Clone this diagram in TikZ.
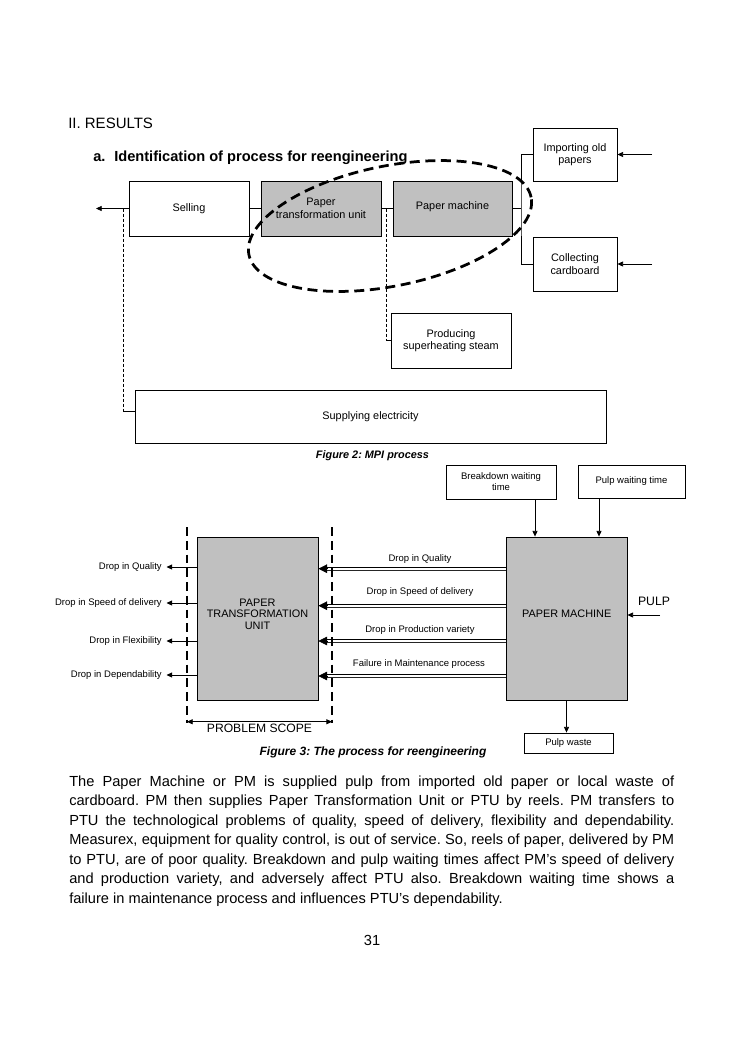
\documentclass[tikz,border=0pt]{standalone}
\usepackage{fontspec}
\setmainfont{Liberation Sans}
\usetikzlibrary{arrows.meta}
\newcommand\myfs[2]{\fontsize{#1}{#2}\selectfont}
\definecolor{boxgray}{RGB}{192,192,192}
\frenchspacing
\begin{document}
\begin{tikzpicture}[x=0.8pt,y=-0.8pt,
  box/.style={draw, line width=0.7pt, align=center, inner sep=1pt, font=\myfs{8.7}{10}},
  gbox/.style={box, fill=boxgray},
  sbox/.style={box, font=\myfs{7.6}{8.8}},
  conn/.style={line width=0.6pt},
  arr/.style={conn, -{Triangle[length=4.5pt,width=4pt]}},
  fine/.style={line width=0.6pt, dash pattern=on 2.4pt off 1.6pt},
  scopeline/.style={line width=1.7pt, dash pattern=on 7pt off 4pt},
  bigtip/.style={line width=0.4pt, -{Triangle[length=7pt,width=7pt]}},
  lbl/.style={inner sep=0pt, font=\myfs{7.6}{8.8}}
]
\useasboundingbox (0,0) rectangle (744,1053);
\fill[white] (0,0) rectangle (744,1053);

% headings
\node[anchor=base west, inner sep=0pt, font=\myfs{12}{14}] (sec) at (68,128) {II. RESULTS};
\node[anchor=base west, inner sep=0pt, font=\bfseries\myfs{11.7}{14}] (sa) at (93,161) {a.};
\node[anchor=base west, inner sep=0pt, font=\bfseries\myfs{11.7}{14}] (sat) at (114,161) {Identification of process for reengineering};

% Figure 2 boxes
\node[box, minimum width=96pt, minimum height=44pt] (sell) at (189,208.5) {Selling};
\node[gbox, minimum width=96pt, minimum height=44pt] (ptua) at (321,208.5) {Paper\\transformation unit};
\node[gbox, minimum width=95.2pt, minimum height=44pt] (pma) at (452.5,208.5) {\raisebox{1.6pt}[\height][\depth]{Paper machine}};
\node[box, minimum width=67.2pt, minimum height=42.4pt] (imp) at (575,154.5) {Importing old\\papers};
\node[box, minimum width=67.2pt, minimum height=43.2pt] (col) at (575,264) {Collecting\\cardboard};
\node[box, minimum width=96pt, minimum height=44pt] (steam) at (451,340.5) {Producing\\superheating steam};
\node[box, minimum width=376.8pt, minimum height=42.4pt] (elec) at (370.5,416.5) {Supplying electricity};

% Figure 2 connectors
\draw[conn] (sell.east) -- (ptua.west);
\draw[conn] (ptua.east) -- (pma.west);
\coordinate (bus) at (521,208.5);
\draw[conn] (pma.east) -- (bus);
\draw[conn] (imp.west) -| (bus) |- (col.west);
\coordinate (impin) at (652,154.5);
\draw[arr] (impin) -- (imp.east);
\coordinate (colin) at (652,264);
\draw[arr] (colin) -- (col.east);
\coordinate (sellout) at (96,208.5);
\draw[arr] (sell.west) -- (sellout);
\coordinate (ej) at ([yshift=4pt]elec.west);
\coordinate (dj1) at (123,208.5);
\draw[fine] (dj1) -- (dj1 |- ej);
\draw[conn] (dj1 |- ej) -- (ej);
\coordinate (dj2) at (386.5,208.5);
\draw[fine] (dj2) -- (dj2 |- steam.west);
\draw[conn] (dj2 |- steam.west) -- (steam.west);

% dashed ellipse
\draw[line width=2.2pt, dash pattern=on 8pt off 4.5pt, rotate around={11.5:(390,226)}]
  (390,226) ellipse [x radius=115.2pt, y radius=48pt];

\node[font=\bfseries\itshape\myfs{8.7}{10}] (cap2) at (372.5,456) {Figure 2: MPI process};

% Figure 3
\node[gbox, minimum width=96.8pt, minimum height=130.4pt] (ptub) at (257.5,618.5) {};
\node[align=center, inner sep=0pt, font=\myfs{8.7}{9.2}] (ptubt) at (257.5,614) {PAPER\\TRANSFORMATION\\UNIT};
\node[gbox, minimum width=96.8pt, minimum height=130.4pt] (pmb) at (566.5,618.5) {};
\node[inner sep=0pt, font=\myfs{8.7}{9.2}] (pmbt) at (566.7,614) {PAPER MACHINE};

\node[lbl, anchor=east] (lq) at (162,567) {Drop in Quality};
\node[lbl, anchor=east] (ls) at (162,603) {Drop in Speed of delivery};
\node[lbl, anchor=east] (lf) at (162,641) {Drop in Flexibility};
\node[lbl, anchor=east] (ld) at (162,675) {Drop in Dependability};
\draw[arr] (ptub.west |- lq) -- ([xshift=3.6pt]lq.east);
\draw[arr] (ptub.west |- ls) -- ([xshift=3.6pt]ls.east);
\draw[arr] (ptub.west |- lf) -- ([xshift=3.6pt]lf.east);
\draw[arr] (ptub.west |- ld) -- ([xshift=3.6pt]ld.east);

% double-line arrows from the paper machine to the PTU
\coordinate (r1) at (412,568.7);
\coordinate (r2) at (412,605.7);
\coordinate (r3) at (412,641);
\coordinate (r4) at (412,676);
\foreach \i in {1,2,3,4} {
  \coordinate (s\i) at (pmb.west |- r\i);
  \coordinate (e\i) at (ptub.east |- r\i);
  \draw[line width=0.6pt] ([yshift=1.1pt]s\i) -- ([yshift=1.1pt,xshift=4pt]e\i);
  \draw[line width=0.9pt, black!85] ([yshift=-1.1pt]s\i) -- ([yshift=-1.1pt,xshift=4pt]e\i);
  \draw[bigtip] ([xshift=7pt]e\i) -- (e\i);
}
\node[lbl] (mq) at (420,559) {Drop in Quality};
\node[lbl] (ms) at (420,592) {Drop in Speed of delivery};
\node[lbl] (mv) at (420,630) {Drop in Production variety};
\node[lbl] (mm) at (419,664) {Failure in Maintenance process};

\coordinate (sa1) at (187,527);
\coordinate (sa2) at (187,723);
\coordinate (sb1) at (332,527);
\coordinate (sb2) at (332,723);
\draw[scopeline] (sa1) -- (sa2);
\draw[scopeline] (sb1) -- (sb2);
\draw[conn, {Triangle[length=4.5pt,width=4pt]}-{Triangle[length=4.5pt,width=4pt]}] ([yshift=1pt]sa2) -- ([yshift=1pt]sb2);
\node[anchor=base, inner sep=0pt, font=\myfs{9.7}{11}] (psc) at (259.5,732.5) {PROBLEM SCOPE};

\node[sbox, minimum width=88pt, minimum height=27.2pt] (bw) at (501,482) {Breakdown waiting\\time};
\node[sbox, minimum width=85.6pt, minimum height=26.4pt] (pw) at (631.5,481.5) {Pulp waiting time};
\coordinate (ab) at (535,0);
\draw[arr] (bw.south -| ab) -- (pmb.north -| ab);
\coordinate (ap) at (599,0);
\draw[arr] (pw.south -| ap) -- (pmb.north -| ap);

\node[inner sep=0pt, font=\myfs{9.8}{11}] (pulp) at (654,601.7) {PULP};
\coordinate (pulpin) at (660,615);
\draw[arr] (pulpin) -- (pulpin -| pmb.east);

\node[sbox, minimum width=71.2pt, minimum height=16pt] (pwaste) at (568.5,743) {Pulp waste};
\draw[arr] (pmb.south) -- (pmb.south |- pwaste.north);

\node[font=\bfseries\itshape\myfs{9.6}{11}] (cap3) at (373,752) {Figure 3: The process for reengineering};

% body text
\node[anchor=north west, inner sep=0pt, text width=484pt, align=justify, font=\myfs{11.7}{15.6}] (body) at (69,775.5)
{The Paper Machine or PM is supplied pulp from imported old paper or local waste of\linebreak
cardboard. PM then supplies Paper Transformation Unit or PTU by reels. PM transfers to\linebreak
PTU the technological problems of quality, speed of delivery, flexibility and dependability.\linebreak
Measurex, equipment for quality control, is out of service. So, reels of paper, delivered by PM\linebreak
to PTU, are of poor quality. Breakdown and pulp waiting times affect PM’s speed of delivery\linebreak
and production variety, and adversely affect PTU also. Breakdown waiting time shows a\linebreak
failure in maintenance process and influences PTU’s dependability.};

\node[font=\myfs{11.7}{14}] (pg) at (372,940) {31};
\end{tikzpicture}
\end{document}
